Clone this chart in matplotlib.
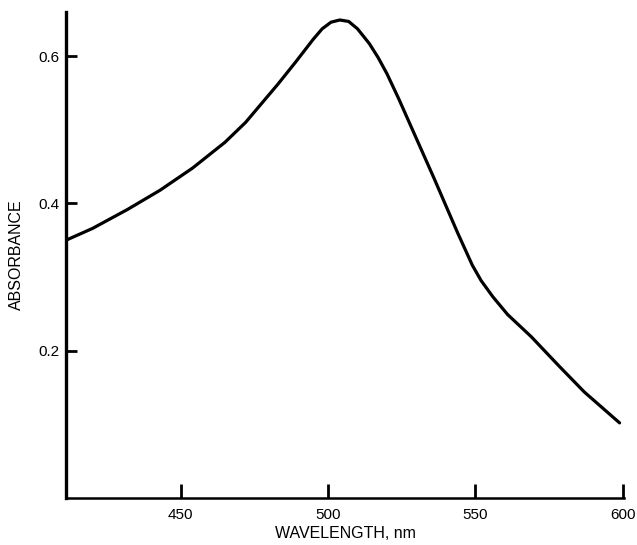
import matplotlib

matplotlib.use("Agg")
import matplotlib.pyplot as plt

plt.rcParams["font.family"] = ["Liberation Sans", "DejaVu Sans"]

# absorbance spectrum
wavelength_nm = [411, 420, 432, 443, 454, 465, 472, 483, 489, 495, 498, 501, 504,
                 507, 510, 514, 517, 520, 524, 528, 532, 536, 540, 544, 549, 552,
                 556, 561, 569, 578, 587, 599]
absorbance = [0.350, 0.366, 0.392, 0.418, 0.448, 0.483, 0.510, 0.562, 0.592, 0.623,
              0.637, 0.646, 0.649, 0.647, 0.637, 0.617, 0.598, 0.576, 0.542, 0.506,
              0.470, 0.434, 0.397, 0.360, 0.316, 0.295, 0.273, 0.249, 0.219, 0.181,
              0.144, 0.102]

x_ticks = [450, 500, 550, 600]
y_ticks = [0.2, 0.4, 0.6]

fig = plt.figure(figsize=(6.37, 5.45), dpi=100)
ax = fig.add_axes([0.1036, 0.0862, 0.876, 0.892])

ax.plot(wavelength_nm, absorbance, color="black", linewidth=2.3,
        solid_capstyle="round", solid_joinstyle="round")

ax.set_xlim(411, 600.5)
ax.set_ylim(0.0, 0.66)

for side in ("top", "right"):
    ax.spines[side].set_visible(False)
ax.spines["left"].set_linewidth(2.4)
ax.spines["bottom"].set_linewidth(1.8)

ax.set_xticks(x_ticks)
ax.set_xticklabels([str(t) for t in x_ticks])
ax.set_yticks(y_ticks)
ax.set_yticklabels([f"{t:.1f}" for t in y_ticks])
ax.tick_params(axis="x", direction="in", length=10, width=2, pad=7, labelsize=11)
ax.tick_params(axis="y", direction="in", length=8, width=2, pad=5, labelsize=11)

ax.set_xlabel("WAVELENGTH, nm", fontsize=11.5, labelpad=3)
ax.set_ylabel("ABSORBANCE", fontsize=11.5, labelpad=10)

fig.savefig("out.png", dpi=100)
plt.close(fig)
